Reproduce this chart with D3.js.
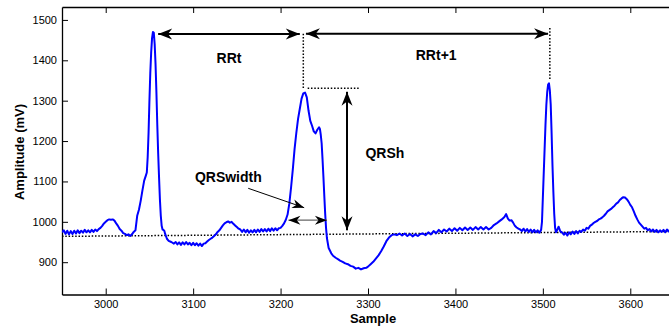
<!DOCTYPE html>
<html><head><meta charset="utf-8">
<script src="https://cdn.jsdelivr.net/npm/d3@7/dist/d3.min.js"></script>
<style>
body{margin:0;background:#fff;}
svg{display:block;font-family:"Liberation Sans",Arial,Helvetica,sans-serif;}
</style></head>
<body>
<svg id="c" width="669" height="331"></svg>
<script>
// ---- data ----
const sampleIdx = [2950,2952,2954,2956,2958,2960,2962,2964,2966,2968,2970,2972,2974,2976,2978,2980,2982,2984,2986,2988,2990,2992,2994,2996,2998,3000,3002,3004,3006,3008,3010,3012,3014,3016,3018,3020,3022,3024,3026,3028,3030,3032,3034,
3036,3038,3040,3042,3044,3046,3047,3048,3049,3050,3051,3052,3053,3054,3055,3056,3057,3058,3059,3060,3061,3062,3063,3064,3065,3066,3067,3068,3070,3072,3075,
3078,3080,3082,3084,3086,3088,3090,3092,3094,3096,3098,3100,3102,3104,3106,3108,3110,3112,3114,3116,3118,3120,3122,3124,3126,3128,3130,3132,3134,3136,3138,3140,3142,3144,3146,3148,3150,3152,3154,3156,3158,3160,3162,3164,3166,3168,3170,3172,3174,3176,3178,3180,3182,3184,3186,3188,3190,3192,3194,3196,3198,
3200,3202,3204,3206,3208,3210,3212,3214,3216,3218,3220,3222,3224,3226,3228,3230,3232,3234,3236,3238,3240,3242,3244,3245,3246,3247,3248,3249,3250,3251,3252,3253,3255,3258,3260,3263,3266,3268,3271,3274,3277,3280,3283,3286,3289,3292,3295,3298,3300,3303,3306,3309,3312,3315,3318,3321,3324,3327,3330,3333,3336,3339,3342,3345,3348,3351,3354,3357,3360,3363,3366,3369,3372,3375,3378,3381,3384,3387,3390,3393,3396,3399,3402,3405,3408,3411,3414,3417,3420,3423,3426,3429,3432,3435,3438,3441,3444,3447,3450,3453,3456,3458,3460,3462,3464,3466,3468,3470,3472,3474,3476,3478,3480,3482,3484,3486,3488,3490,3492,3494,3496,3498,
3499,3500,3501,3502,3503,3504,3505,3506,3507,3508,3509,3510,3511,3512,3513,3514,3515,3516,3518,3520,3522,3524,3526,3528,3530,3532,3534,3536,3538,3540,3542,3544,3546,3548,3550,3552,3554,3556,3558,3560,3562,3564,3566,3568,3570,3572,3574,3576,3578,3580,3582,3584,3586,3588,3590,3592,3594,3596,3598,3600,3602,3604,3606,3608,3610,3612,3614,3616,3618,3620,3622,3624,3626,3628,3630,3632,3634,3636,3638,3640,3642,3644,3646,3648,3650];
const amplitudeMv = [974,979,970,978,969,977,970,978,971,979,972,978,973,980,974,979,974,980,975,981,977,982,985,990,996,1000,1004,1006,1005,1006,1003,996,990,982,978,972,970,967,969,965,969,975,979,
1015,1030,1052,1078,1102,1115,1122,1160,1220,1300,1370,1420,1455,1470,1468,1440,1390,1320,1240,1170,1110,1055,1015,990,981,980,978,970,958,953,950,
946,950,944,949,943,949,944,950,944,948,942,948,942,947,941,946,940,946,947,951,955,958,961,965,969,975,979,985,991,996,999,1001,998,1000,995,991,987,983,981,975,981,974,980,973,979,974,980,974,981,975,982,976,982,976,983,977,984,978,984,979,984,
985,990,996,1005,1018,1045,1085,1130,1180,1220,1255,1280,1305,1318,1320,1308,1275,1250,1238,1224,1219,1228,1234,1230,1215,1194,1155,1112,1065,1021,985,960,935,922,916,911,907,904,901,897,895,891,889,884,886,882,885,886,889,895,901,909,917,927,939,952,961,967,969,967,971,966,971,965,970,964,969,965,970,971,967,974,969,977,972,980,974,981,976,983,977,984,978,985,979,986,980,986,980,987,981,987,981,987,981,985,992,996,1001,1006,1012,1019,1008,1003,1004,998,990,986,983,981,977,983,976,982,975,981,974,980,974,979,973,980,
1000,1060,1120,1180,1240,1290,1322,1340,1343,1325,1290,1220,1140,1075,1020,985,974,978,988,976,974,968,973,966,974,969,976,970,977,971,978,975,981,978,985,983,990,993,997,1000,1002,1006,1008,1011,1015,1020,1026,1029,1032,1036,1040,1045,1048,1054,1058,1061,1060,1056,1050,1042,1036,1026,1015,1006,998,993,988,983,985,979,982,976,981,975,980,974,979,975,980,974,981,976,982,975,978];

const xTicks = [3000,3100,3200,3300,3400,3500,3600];
const yTicks = [900,1000,1100,1200,1300,1400,1500];
const xDomain = [2950,3650];
const yDomain = [820,1532];

// baseline (dotted) endpoints, sample / mV
const baseSamples = [2950,3650];
const baseMv = [964,976];

// annotation positions in data units
const rrtArrow = [3060,3222,1465];       // x1, x2, y
const rrt1Arrow = [3229,3506,1466];
const rrtDotV = [3226,1466,1331];         // x, y1, y2
const rrtDotH = [3231,3291,1331];         // x1, x2, y
const rrt1DotV = [3508,1480,1351];
const qrshArrow = [3276,1322,979];        // x, y1, y2
const qrswArrow = [3209,3253,1004];       // x1, x2, y
const pointer = [3163,1083,3227,1035];    // x1,y1,x2,y2
const labels = [
  {t:"RRt", x:3141, y:1393, anchor:"middle"},
  {t:"RRt+1", x:3378, y:1401, anchor:"middle"},
  {t:"QRSh", x:3297, y:1157, anchor:"start"},
  {t:"QRSwidth", x:3102, y:1099, anchor:"start"}
];

// ---- chart ----
const L=62, R=674, T=7, B=294.5;
const svg = d3.select("#c");
const x = d3.scaleLinear().domain(xDomain).range([L,R]);
const y = d3.scaleLinear().domain(yDomain).range([B,T]);

svg.append("defs").append("clipPath").attr("id","clip")
  .append("rect").attr("x",L).attr("y",T).attr("width",R-L).attr("height",B-T);

// axes
const tickLen = 6;
const fmt = d3.format("d");
const gx = svg.append("g").attr("transform",`translate(0,${B})`)
  .call(d3.axisBottom(x).tickValues(xTicks).tickFormat(fmt).tickSizeInner(-tickLen).tickSizeOuter(0).tickPadding(6));
const gxTop = svg.append("g").attr("transform",`translate(0,${T})`)
  .call(d3.axisTop(x).tickValues(xTicks).tickSizeInner(-tickLen).tickSizeOuter(0).tickFormat(""));
const gy = svg.append("g").attr("transform",`translate(${L},0)`)
  .call(d3.axisLeft(y).tickValues(yTicks).tickFormat(fmt).tickSizeInner(-tickLen).tickSizeOuter(0).tickPadding(5));
[gx,gxTop,gy].forEach(g=>{
  g.select(".domain").attr("stroke","#000").attr("stroke-width",1.3);
  g.selectAll(".tick line").attr("stroke","#000").attr("stroke-width",1);
  g.selectAll(".tick text").attr("fill","#000").style("font-size","11px")
   .style("font-family",'"Liberation Sans",Arial,sans-serif');
});
gy.selectAll(".tick text").attr("x",-5);

svg.append("text").attr("x",373).attr("y",323).attr("text-anchor","middle")
  .style("font-weight","bold").style("font-size","13px").text("Sample");
svg.append("text").attr("transform","translate(24,152) rotate(-90)").attr("text-anchor","middle")
  .style("font-weight","bold").style("font-size","13px").text("Amplitude (mV)");

const plot = svg.append("g").attr("clip-path","url(#clip)");

// baseline dotted
plot.append("line").attr("x1",x(baseSamples[0])).attr("x2",x(baseSamples[1]))
  .attr("y1",y(baseMv[0])).attr("y2",y(baseMv[1]))
  .attr("stroke","#000").attr("stroke-width",1.5).attr("stroke-dasharray","1.5,1.8");

// signal
const pts = sampleIdx.map((s,i)=>[s,amplitudeMv[i]]);
plot.append("path").datum(pts)
  .attr("d", d3.line().x(d=>x(d[0])).y(d=>y(d[1])))
  .attr("fill","none").attr("stroke","#0000ff").attr("stroke-width",2).attr("stroke-linejoin","round");

// dotted annotation lines
const dot = (x1,y1,x2,y2)=> svg.append("line").attr("x1",x1).attr("y1",y1).attr("x2",x2).attr("y2",y2)
  .attr("stroke","#000").attr("stroke-width",1.5).attr("stroke-dasharray","1.5,1.8");
dot(x(rrtDotV[0]),y(rrtDotV[1]),x(rrtDotV[0]),y(rrtDotV[2]));
dot(x(rrtDotH[0]),y(rrtDotH[2]),x(rrtDotH[1]),y(rrtDotH[2]));
dot(x(rrt1DotV[0]),y(rrt1DotV[1]),x(rrt1DotV[0]),y(rrt1DotV[2]));

// arrowhead helper: tip at (tx,ty) pointing away from (fx,fy)
function head(tx,ty,fx,fy,len,hw,color){
  const a = Math.atan2(ty-fy,tx-fx);
  const p = [[0,0],[-len,-hw],[-len*0.7,0],[-len,hw]].map(([u,v])=>[
    tx+u*Math.cos(a)-v*Math.sin(a), ty+u*Math.sin(a)+v*Math.cos(a)]);
  svg.append("path").attr("d","M"+p.map(q=>q.join(",")).join("L")+"Z").attr("fill",color||"#000");
}
function dbl(x1,y1,x2,y2,w,color,len,hw,headColor){
  svg.append("line").attr("x1",x1).attr("y1",y1).attr("x2",x2).attr("y2",y2)
    .attr("stroke",color).attr("stroke-width",w);
  head(x1,y1,x2,y2,len,hw,headColor);
  head(x2,y2,x1,y1,len,hw,headColor);
}
dbl(x(rrtArrow[0]),y(rrtArrow[2]),x(rrtArrow[1]),y(rrtArrow[2]),2,"#000",14,5.5);
dbl(x(rrt1Arrow[0]),y(rrt1Arrow[2]),x(rrt1Arrow[1]),y(rrt1Arrow[2]),2,"#000",14,5.5);
dbl(x(qrshArrow[0]),y(qrshArrow[1]),x(qrshArrow[0]),y(qrshArrow[2]),2,"#000",14,5.5);
dbl(x(qrswArrow[0]),y(qrswArrow[2]),x(qrswArrow[1]),y(qrswArrow[2]),1.2,"#666",12,4.5,"#000");
svg.append("line").attr("x1",x(pointer[0])).attr("y1",y(pointer[1])).attr("x2",x(pointer[2])).attr("y2",y(pointer[3]))
  .attr("stroke","#000").attr("stroke-width",1);
head(x(pointer[2]),y(pointer[3]),x(pointer[0]),y(pointer[1]),12,4.5);

labels.forEach(l=>svg.append("text").attr("x",x(l.x)).attr("y",y(l.y)).attr("text-anchor",l.anchor)
  .style("font-weight","bold").style("font-size","14px").text(l.t));
</script>
</body></html>
